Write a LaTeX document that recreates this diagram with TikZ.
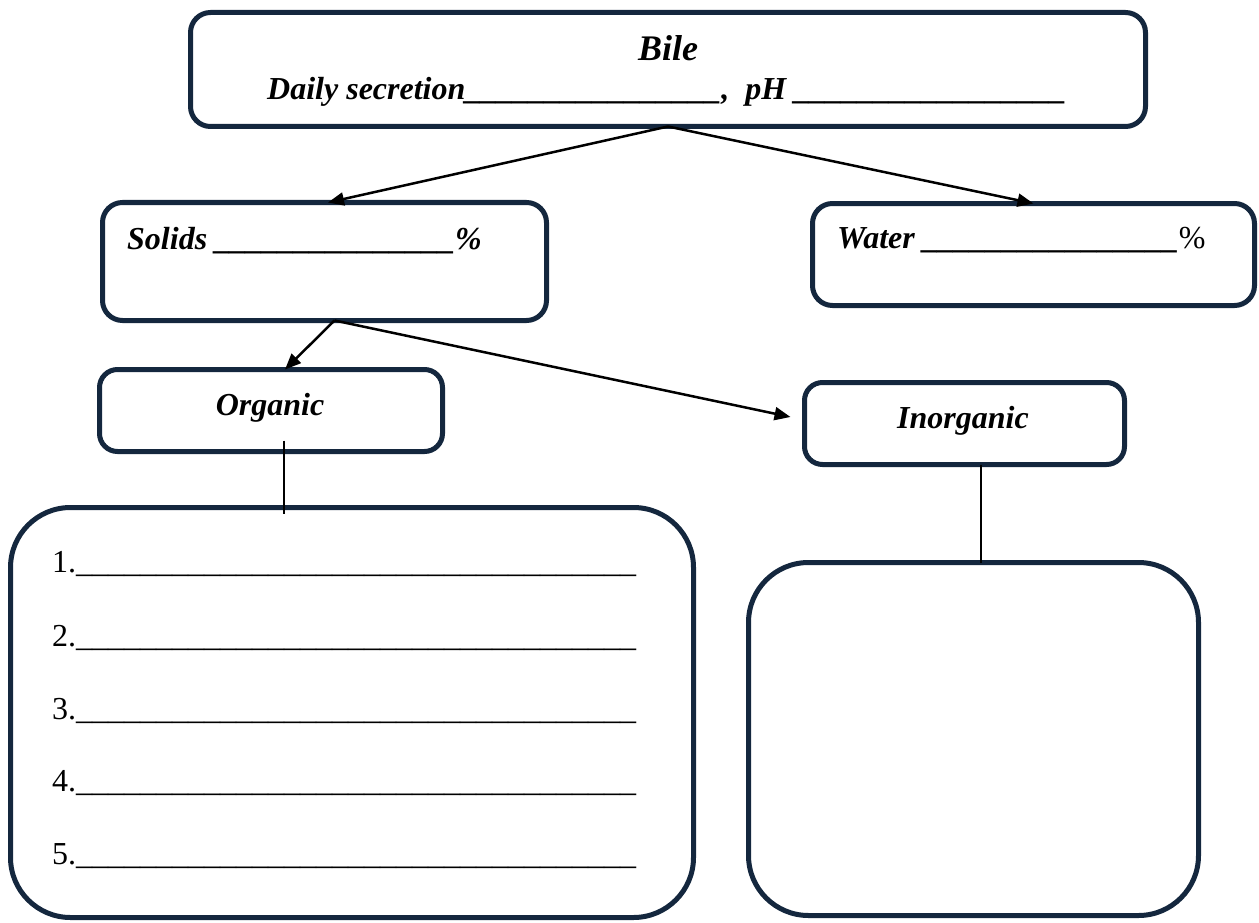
\documentclass[tikz,border=0pt]{standalone}
\usepackage{fontspec}
\setmainfont{Liberation Serif}
\usetikzlibrary{arrows.meta}
\definecolor{boxnavy}{HTML}{14273E}
% a run of #1 underscore characters
\newcommand\blanks[1]{\ifnum#1>0 \_\expandafter\blanks\expandafter{\the\numexpr#1-1\relax}\fi}
\begin{document}
\begin{tikzpicture}[x=1pt,y=-1pt,
  panel/.style={draw=boxnavy, line width=5pt, rounded corners=20pt, inner sep=0pt, outer sep=0pt},
  bigpanel/.style={panel, rounded corners=60pt},
  arrowline/.style={draw=black, line width=2.5pt, -{Triangle[length=16pt,width=13pt]}},
  stem/.style={draw=black, line width=1.5pt},
  lbl/.style={inner sep=0pt, font=\fontsize{32}{36}\selectfont\bfseries\itshape},
  item/.style={inner sep=0pt, anchor=base west, font=\fontsize{32}{36}\selectfont}]
\useasboundingbox (0,0) rectangle (1259,923);

% boxes
\node[panel, minimum width=955pt, minimum height=114pt] (bile) at (668,69.5) {};
\node[panel, minimum width=444pt, minimum height=118pt] (solids) at (324.5,261.5) {};
\node[panel, minimum width=442pt, minimum height=102pt] (water) at (1033.5,254.5) {};
\node[panel, rounded corners=18pt, minimum width=343pt, minimum height=82pt] (org) at (271,410.5) {};
\node[panel, rounded corners=18pt, minimum width=320pt, minimum height=82pt] (inorg) at (964.5,423.5) {};
\node[bigpanel, minimum width=683pt, minimum height=410pt] (orglist) at (352,712.5) {};
\node[bigpanel, minimum width=450pt, minimum height=353pt] (inorgbig) at (973.5,739) {};

% labels
\node[lbl, anchor=base, font=\fontsize{36}{40}\selectfont\bfseries\itshape] (biletitle) at (668,61) {Bile};
\node[lbl, anchor=base west] (daily) at (267,100) {Daily secretion\blanks{16},\ \ pH \blanks{17}};
\node[lbl, anchor=base west] (solidstxt) at (127,249) {Solids \blanks{15}\%};
\node[lbl, anchor=base west] (watertxt) at (837,248) {Water \blanks{16}{\normalfont\%}};
\node[lbl, anchor=base] (orgtxt) at (270,415) {Organic};
\node[lbl, anchor=base] (inorgtxt) at (963,428) {Inorganic};

% numbered blanks
\node[item] (i1) at (52,572) {1.\blanks{35}};
\node[item] (i2) at (52,646) {2.\blanks{35}};
\node[item] (i3) at (52,719) {3.\blanks{35}};
\node[item] (i4) at (52,791) {4.\blanks{35}};
\node[item] (i5) at (52,864) {5.\blanks{35}};

% connectors
\draw[arrowline] (bile.south) -- ([xshift=3.5pt]solids.north);
\draw[arrowline] (bile.south) -- (water.north);
\draw[arrowline] ([xshift=10pt]solids.south) -- ([xshift=14pt]org.north);
\draw[arrowline] ([xshift=10pt]solids.south) -- ([xshift=-14pt,yshift=6.5pt]inorg.west);
\draw[stem] ([xshift=13pt,yshift=11pt]org.south) -- ([xshift=-68pt,yshift=-6pt]orglist.north);
\draw[stem] ([xshift=16.5pt]inorg.south) -- ([xshift=7.5pt]inorgbig.north);
\end{tikzpicture}
\end{document}
